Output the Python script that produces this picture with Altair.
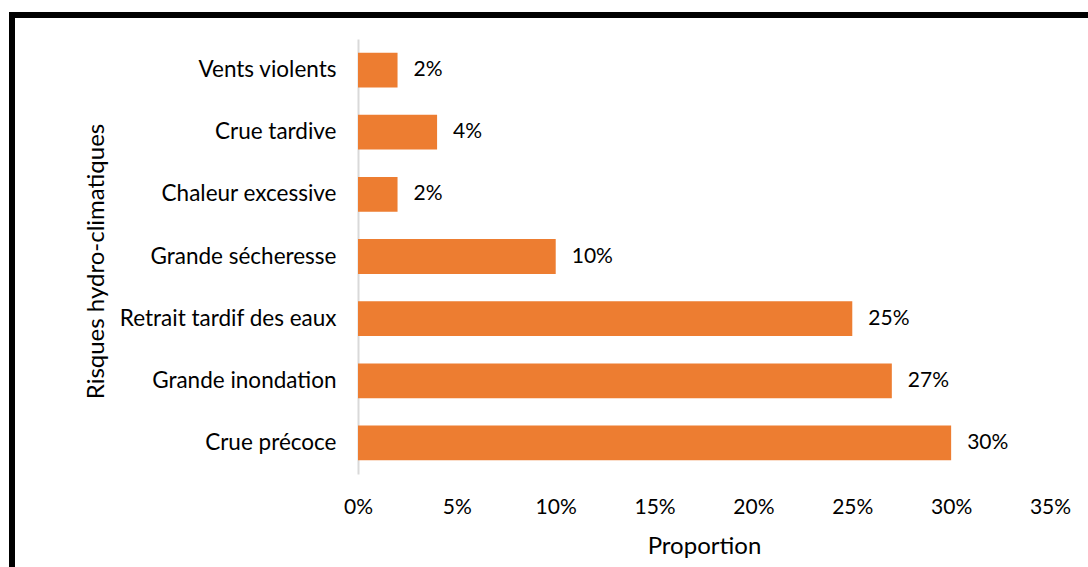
import altair as alt
import pandas as pd

categories = ["Vents violents", "Crue tardive", "Chaleur excessive", "Grande sécheresse",
              "Retrait tardif des eaux", "Grande inondation", "Crue précoce"]
values = [0.02, 0.04, 0.02, 0.10, 0.25, 0.27, 0.30]
labels = ["2%", "4%", "2%", "10%", "25%", "27%", "30%"]
x_ticks = [0, 0.05, 0.10, 0.15, 0.20, 0.25, 0.30, 0.35]

df = pd.DataFrame({"cat": categories, "val": values, "lab": labels})

W, H = 692, 435
FONT = "Lato"

y_enc = alt.Y("cat:N", sort=categories,
              scale=alt.Scale(paddingInner=0.44, paddingOuter=0.22),
              axis=alt.Axis(title="Risques hydro-climatiques", domainColor="#d9d9d9",
                            domainWidth=2, ticks=False, labelPadding=22, labelLimit=400,
                            labelFontSize=22.5, labelColor="#000000", labelFont=FONT,
                            titleFontSize=24, titleFont=FONT, titleFontWeight="normal",
                            titleColor="#000000", titleX=-262, titleY=222,
                            titleBaseline="middle", titleAngle=270, grid=False))
x_enc = alt.X("val:Q", scale=alt.Scale(domain=[0, 0.35], nice=False),
              axis=alt.Axis(title="Proportion", format=".0%", values=x_ticks,
                            domain=False, ticks=False, grid=False, labelPadding=22,
                            labelFlush=False,
                            labelFontSize=21, labelColor="#000000", labelFont=FONT,
                            titleFontSize=24, titleFont=FONT, titleFontWeight="normal",
                            titleColor="#000000", titlePadding=17))

bars = alt.Chart(df).mark_bar(color="#ED7D31").encode(x=x_enc, y=y_enc)
text = alt.Chart(df).mark_text(align="left", baseline="middle", dx=16, fontSize=21,
                               font=FONT, color="#000000").encode(
    x="val:Q", y=alt.Y("cat:N", sort=categories), text="lab:N")

frame_top = alt.Chart(df).mark_rule(color="#000000", strokeWidth=6).encode(
    x=alt.value(-349), x2=alt.value(W + 40), y=alt.value(-24))
frame_left = alt.Chart(df).mark_rule(color="#000000", strokeWidth=6).encode(
    x=alt.value(-346), y=alt.value(-27), y2=alt.value(H + 100))

chart = alt.layer(bars, text, frame_top, frame_left).properties(
    width=W, height=H,
    autosize=alt.AutoSizeParams(type="none"),
    padding={"left": 358, "top": 39, "right": 38, "bottom": 93},
    background="#ffffff",
).configure_view(stroke=None)

chart.save("out.html", embed_options={"renderer": "svg", "actions": False})
